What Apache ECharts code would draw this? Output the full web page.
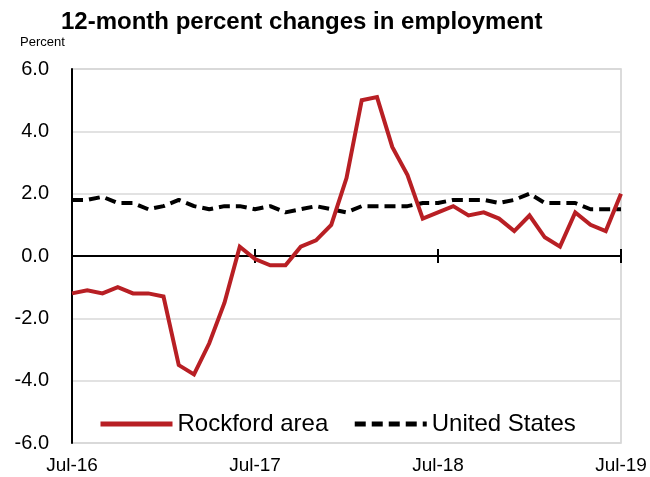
<!DOCTYPE html>
<html>
<head>
<meta charset="utf-8">
<script src="https://cdn.jsdelivr.net/npm/echarts@6/dist/echarts.min.js"></script>
<style>
  html, body { margin: 0; padding: 0; background: #fff; }
  #chart { width: 650px; height: 477px; }
</style>
</head>
<body>
<div id="chart"></div>
<script>
// Monthly labels, Jul-16 through Jul-19
const months = [
  'Jul-16','Aug-16','Sep-16','Oct-16','Nov-16','Dec-16',
  'Jan-17','Feb-17','Mar-17','Apr-17','May-17','Jun-17',
  'Jul-17','Aug-17','Sep-17','Oct-17','Nov-17','Dec-17',
  'Jan-18','Feb-18','Mar-18','Apr-18','May-18','Jun-18',
  'Jul-18','Aug-18','Sep-18','Oct-18','Nov-18','Dec-18',
  'Jan-19','Feb-19','Mar-19','Apr-19','May-19','Jun-19',
  'Jul-19'
];

// 12-month percent change in employment
const rockford = [
  -1.2, -1.1, -1.2, -1.0, -1.2, -1.2,
  -1.3, -3.5, -3.8, -2.8, -1.5, 0.3,
  -0.1, -0.3, -0.3, 0.3, 0.5, 1.0,
  2.5, 5.0, 5.1, 3.5, 2.6, 1.2,
  1.4, 1.6, 1.3, 1.4, 1.2, 0.8,
  1.3, 0.6, 0.3, 1.4, 1.0, 0.8,
  2.0
];
const unitedStates = [
  1.8, 1.8, 1.9, 1.7, 1.7, 1.5,
  1.6, 1.8, 1.6, 1.5, 1.6, 1.6,
  1.5, 1.6, 1.4, 1.5, 1.6, 1.5,
  1.4, 1.6, 1.6, 1.6, 1.6, 1.7,
  1.7, 1.8, 1.8, 1.8, 1.7, 1.8,
  2.0, 1.7, 1.7, 1.7, 1.5, 1.5,
  1.5
];

const FONT = '"Liberation Sans", "Noto Sans", sans-serif';
const RED = '#b81f24';
const Y_MIN = -6, Y_MAX = 6, Y_STEP = 2;

const chart = echarts.init(document.getElementById('chart'), null, { renderer: 'canvas' });

chart.setOption({
  animation: false,
  backgroundColor: '#ffffff',
  textStyle: { fontFamily: FONT, color: '#000' },
  title: {
    text: '12-month percent changes in employment',
    left: 56,
    top: 5,
    textStyle: { fontFamily: FONT, fontSize: 24, fontWeight: 'bold', color: '#000' }
  },
  graphic: [{
    type: 'text',
    left: 20,
    top: 36,
    style: { text: 'Percent', font: '13px ' + FONT, fill: '#000' }
  }],
  grid: {
    left: 72, right: 29, top: 69, bottom: 34,
    show: true,
    borderColor: '#d0d0d0',
    borderWidth: 1.5,
    backgroundColor: 'transparent'
  },
  legend: {
    left: 93,
    top: 407,
    itemWidth: 72,
    itemHeight: 14,
    itemGap: 24,
    textStyle: { fontFamily: FONT, fontSize: 24, color: '#000' },
    data: [
      { name: 'Rockford area', itemStyle: { opacity: 0 }, lineStyle: { width: 5, color: RED } },
      { name: 'United States', itemStyle: { opacity: 0 }, lineStyle: { width: 5, color: '#000', type: [11, 6] } }
    ]
  },
  xAxis: [
    {
      // axis line through zero with year ticks pointing down
      type: 'category',
      data: months,
      boundaryGap: false,
      position: 'bottom',
      axisLine: { onZero: true, onZeroAxisIndex: 0, lineStyle: { color: '#000', width: 2 } },
      axisTick: { show: true, inside: false, length: 7, interval: 11,
                  lineStyle: { color: '#000', width: 2 } },
      axisLabel: { show: false },
      splitLine: { show: false }
    },
    {
      // tick labels along the bottom edge
      type: 'category',
      data: months,
      boundaryGap: false,
      position: 'bottom',
      axisLine: { show: false, onZero: false },
      axisTick: { show: false },
      axisLabel: {
        show: true,
        interval: 11,
        margin: 13,
        fontFamily: FONT,
        fontSize: 19,
        color: '#000',
        showMaxLabel: true
      },
      splitLine: { show: false }
    },
    {
      // upper half of the year ticks on the zero line
      type: 'category',
      data: months,
      boundaryGap: false,
      position: 'bottom',
      axisLine: { show: true, onZero: true, onZeroAxisIndex: 1, lineStyle: { color: '#000', width: 2 } },
      axisTick: { show: true, inside: true, length: 7, interval: 11,
                  lineStyle: { color: '#000', width: 2 } },
      axisLabel: { show: false },
      splitLine: { show: false }
    }
  ],
  yAxis: [
    {
      type: 'value',
      min: Y_MIN,
      max: Y_MAX,
      interval: Y_STEP,
      axisLine: { show: true, lineStyle: { color: '#000', width: 2 } },
      axisTick: { show: false },
      axisLabel: {
        fontFamily: FONT,
        fontSize: 20,
        color: '#000',
        margin: 23,
        formatter: (v) => v.toFixed(1)
      },
      splitLine: { show: true, lineStyle: { color: '#d9d9d9', width: 1.5 } }
    },
    {
      // same scale, used only to place the upper tick halves on zero
      type: 'value',
      min: Y_MIN,
      max: Y_MAX,
      interval: Y_STEP,
      position: 'left',
      axisLine: { show: false },
      axisTick: { show: false },
      axisLabel: { show: false },
      splitLine: { show: false }
    }
  ],
  series: [
    {
      name: 'Rockford area',
      type: 'line',
      data: rockford,
      xAxisIndex: 0,
      yAxisIndex: 0,
      symbol: 'none',
      z: 3,
      lineStyle: { color: RED, width: 4, join: 'miter' },
      itemStyle: { color: RED }
    },
    {
      name: 'United States',
      type: 'line',
      data: unitedStates,
      xAxisIndex: 0,
      yAxisIndex: 0,
      symbol: 'none',
      z: 2,
      lineStyle: { color: '#000', width: 4, type: [11, 6] },
      itemStyle: { color: '#000' }
    }
  ]
});
</script>
</body>
</html>
